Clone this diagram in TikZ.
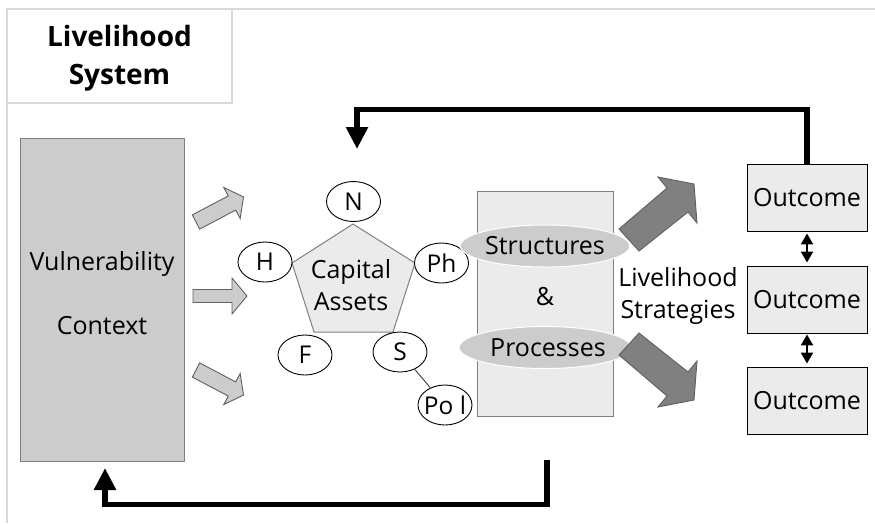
\documentclass[tikz,border=0pt]{standalone}
\usepackage{fontspec}
\setmainfont{Open Sans}
\usetikzlibrary{arrows.meta,shapes.geometric}
\definecolor{framec}{HTML}{D9D9D9}
\definecolor{midgray}{HTML}{CCCCCC}
\definecolor{lightgray}{HTML}{EBEBEB}
\definecolor{bordergray}{HTML}{808080}
\definecolor{darkfill}{HTML}{808080}
\definecolor{darkline}{HTML}{606060}
\newcommand\zw[1]{\makebox[0pt]{#1}}
\tikzset{
  lbl/.style={font=\fontsize{25}{32}\selectfont, align=center, inner sep=0pt},
  titlelbl/.style={font=\fontsize{28}{38}\selectfont\bfseries, align=center, inner sep=0pt},
  asset/.style={ellipse, draw=black, line width=0.9pt, fill=white, minimum width=54pt, minimum height=40pt, inner sep=0pt, font=\fontsize{24.5}{28}\selectfont},
  spell/.style={ellipse, draw=white, line width=1pt, fill=midgray, minimum width=126pt, minimum height=42pt, inner sep=0pt, font=\fontsize{25}{28}\selectfont},
  outbox/.style={rectangle, draw=black, line width=0.9pt, fill=lightgray, minimum width=120pt, minimum height=67pt, inner sep=0pt, font=\fontsize{25}{28}\selectfont},
  fb/.style={line width=5.5pt, -{Triangle[width=21pt,length=22pt]}},
  dbl/.style={line width=2.2pt, {Triangle[width=12pt,length=11pt]}-{Triangle[width=12pt,length=11pt]}},
  lightarrow/.style={fill=midgray, draw=darkline, line width=0.9pt, line join=miter},
  darkarrow/.style={fill=darkfill, draw=darkline, line width=0.9pt, line join=miter},
}
\begin{document}
\begin{tikzpicture}[x=1pt, y=-1pt]
\useasboundingbox (0,0) rectangle (875,523);
% outer frame
\draw[framec, line width=1.5pt] (7,523) -- (7,9) -- (875,9);
% title box
\node[rectangle, draw=framec, line width=1.5pt, fill=white, minimum width=225pt, minimum height=94pt, inner sep=0pt] (title) at (119.5,56) {};
\node[titlelbl] (titletxt) at (119.5,58) {Livelihood\\System};

% vulnerability context
\node[rectangle, draw=bordergray, line width=1pt, fill=midgray, minimum width=164pt, minimum height=323pt, inner sep=0pt] (vul) at (102,299.5) {};
\node[lbl] (vul1) at (102,264) {Vulnerability};
\node[lbl] (vul2) at (102,326) {Context};

% light arrows
\draw[lightarrow] (192.3,214.9) -- (228.3,195.9) -- (223.8,187.5) -- (243.5,196.9) -- (240.2,218.5) -- (235.7,210.1) -- (199.7,229.1) -- cycle;
\draw[lightarrow] (193,289.5) -- (232,289.5) -- (232,278) -- (247,296) -- (232,314) -- (232,302.5) -- (193,302.5) -- cycle;
\draw[lightarrow] (192.3,377.1) -- (228.3,396.1) -- (223.8,404.5) -- (243.5,395.1) -- (240.2,373.5) -- (235.7,381.9) -- (199.7,362.9) -- cycle;

% pentagon
\draw[fill=lightgray, draw=bordergray, line width=1pt] (353,224) -- (415,263) -- (393,332) -- (314,332) -- (292,263) -- cycle;
\node[lbl] (cap) at (351,285) {Capital\\Assets};

% asset ellipses
\node[asset] (N) at (353.5,201.5) {\zw{N}};
\node[asset] (H) at (265,262) {\zw{H}};
\node[asset] (Ph) at (441.5,263) {\zw{Ph}};
\node[asset] (F) at (305,355) {\zw{F}};
\node[asset] (S) at (400,352) {\zw{S}};
\node[asset] (Pol) at (445,405) {\zw{Po l}};
\draw[line width=0.9pt, black!75] (S) -- (Pol);

% structures and processes
\node[rectangle, draw=bordergray, line width=1pt, fill=lightgray, minimum width=136pt, minimum height=225pt, inner sep=0pt] (sp) at (545,303.5) {};
\node[spell] (struct) at (545,246) {Structures};
\node[spell] (proc) at (545,347.5) {\hspace{6pt}Processes};
\node[lbl] (amp) at (545,297) {\&};

% livelihood strategies
\node[lbl] (strat) at (678,296) {Livelihood\\Strategies};

% dark arrows
\draw[darkarrow] (619,229) -- (667,188) -- (658,177) -- (694,184) -- (697,223) -- (688,212) -- (639,251) -- cycle;
\draw[darkarrow] (619,355) -- (667,396) -- (658,407) -- (694,400) -- (697,361) -- (688,372) -- (639,333) -- cycle;

% outcomes
\node[outbox] (o1) at (807,197.5) {Outcome};
\node[outbox] (o2) at (807,299.5) {Outcome};
\node[outbox] (o3) at (807,400.5) {Outcome};
\draw[dbl, shorten <=2pt, shorten >=3pt] (o1.south) -- (o2.north);
\draw[dbl, shorten <=1pt, shorten >=3pt] (o2.south) -- (o3.north);

% feedback loops
\coordinate (topend) at (357,149);
\draw[fb] (o1.north) -- (o1.north |- 0,109.5) -- (topend |- 0,109.5) -- (topend);
\coordinate (botstart) at (547,460);
\coordinate (botend) at (105,468);
\draw[fb] (botstart) -- (botstart |- 0,504.5) -- (botend |- 0,504.5) -- (botend);
\end{tikzpicture}
\end{document}
